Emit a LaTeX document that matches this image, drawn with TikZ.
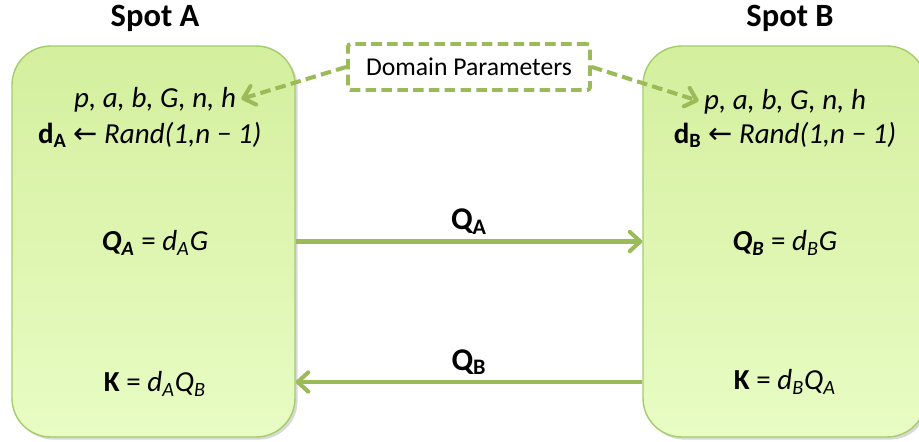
\documentclass[tikz,border=0pt]{standalone}
\usepackage{fontspec}
\setmainfont{Carlito}
\newfontfamily\arrowfont{DejaVu Sans}
\usetikzlibrary{positioning,shadows,arrows.meta}
\definecolor{leaf}{RGB}{155,187,89}
\definecolor{leafedge}{RGB}{165,205,105}
\definecolor{leaftop}{RGB}{212,239,158}
\definecolor{leafbot}{RGB}{232,252,196}
\tikzset{
  title/.style  = {font=\fontsize{18.5}{22}\selectfont\bfseries},
  panel/.style  = {draw=leafedge, line width=0.8pt, rounded corners=22pt,
                   top color=leaftop, bottom color=leafbot,
                   minimum width=5.66cm, minimum height=7.82cm,
                   drop shadow={shadow xshift=1.5pt, shadow yshift=-1.5pt,
                   opacity=0.25, fill=black!60}},
  formula/.style = {font=\fontsize{16.5}{19}\selectfont, inner sep=1pt},
  parambox/.style = {draw=leaf, dashed, dash pattern=on 6pt off 3pt,
                   line width=2.2pt, rounded corners=1.5pt, fill=white,
                   minimum width=4.84cm, minimum height=0.92cm,
                   font=\fontsize{14.6}{17}\selectfont},
  tag/.style    = {font=\fontsize{18}{20}\selectfont\bfseries, inner sep=2pt},
  flow/.style   = {draw=leaf, line width=2.3pt,
                   -{Straight Barb[length=6pt, width=11pt, round]}},
  dflow/.style  = {flow, dash pattern=on 6pt off 3pt, shorten >=2pt}
}
\begin{document}
\begin{tikzpicture}[x=0.02cm, y=-0.02cm]
  \useasboundingbox (0,0) rectangle (919,442);
  % the two parties
  \node[panel] (boxA) at (153.5,241.5) {};
  \node[panel] (boxB) at (784.5,241.5) {};
  \node[title] (spotA) at (155,18) {Spot A};
  \node[title] (spotB) at (790,18) {Spot B};
  % shared parameters
  \node[parambox] (params) at (469,67) {Domain Parameters};
  % spot A
  \node[formula] (parA) at (155,100) {\textit{p, a, b, G, n, h}};
  \node[formula, below=3pt of parA, xshift=-3pt] (randA)
    {\textbf{d\textsubscript{A}} {\arrowfont ←} \textit{Rand(1,n − 1)}};
  \node[formula] (pubA) at (155,243)
    {\textbf{\textit{Q\textsubscript{A}}} = \textit{d\textsubscript{A}G}};
  \node[formula] (keyA) at (155,384)
    {\textbf{K} = \textit{d\textsubscript{A}Q\textsubscript{B}}};
  % spot B
  \node[formula] (parB) at (785,102) {\textit{p, a, b, G, n, h}};
  \node[formula, below=2pt of parB] (randB)
    {\textbf{d\textsubscript{B}} {\arrowfont ←} \textit{Rand(1,n − 1)}};
  \node[formula] (pubB) at (785,243)
    {\textbf{\textit{Q\textsubscript{B}}} = \textit{d\textsubscript{B}G}};
  \node[formula] (keyB) at (785,382)
    {\textbf{K} = \textit{d\textsubscript{B}Q\textsubscript{A}}};
  % exchange
  \draw[dflow] (params.west) -- (parA.east);
  \draw[dflow] (params.east) -- (parB.west);
  \draw[flow] (boxA.east) -- node[tag, above=1pt] (labA) {Q\textsubscript{A}} (boxB.west);
  \draw[flow] (boxB.west |- keyB) -- node[tag, above=1pt] (labB) {Q\textsubscript{B}} (boxA.east |- keyB);
\end{tikzpicture}
\end{document}
